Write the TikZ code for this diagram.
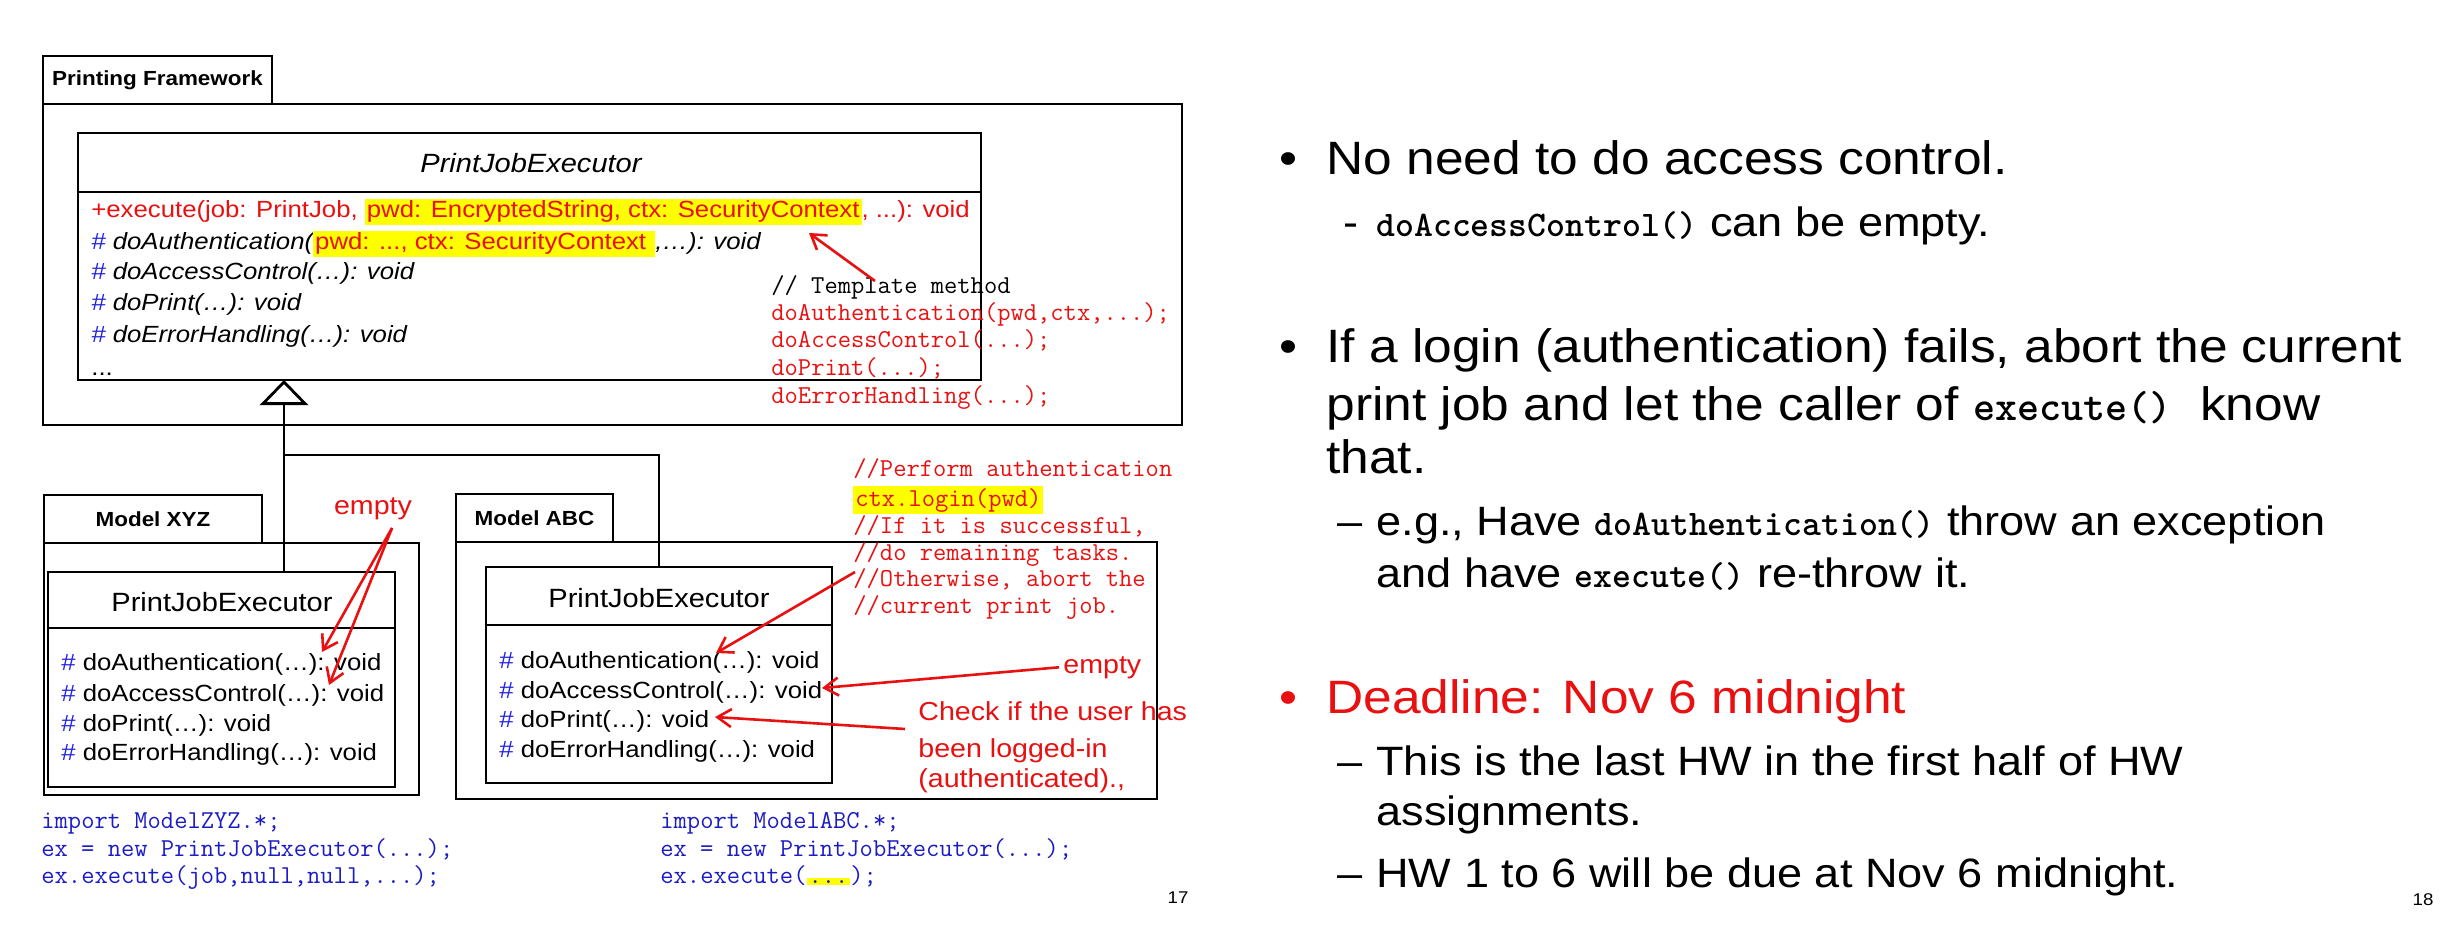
\documentclass[tikz,border=0pt]{standalone}
\usepackage{fontspec}
\setmainfont{Liberation Sans}[FakeStretch=1.1]
\newfontfamily\slidett{lmmonolt10-bold.otf}
\usetikzlibrary{arrows.meta,fit}
\definecolor{annred}{RGB}{232,16,16}
\definecolor{hashblue}{RGB}{36,36,230}
\definecolor{codeblue}{RGB}{28,28,196}
\definecolor{hlyellow}{RGB}{255,255,0}
\newcommand{\hlbox}[1]{{\setlength{\fboxsep}{1pt}\colorbox{hlyellow}{#1}}}
\newcommand{\hashmark}{\textcolor{hashblue}{\#}}
\newcommand{\slidecode}{\slidett\fontsize{18}{20}\selectfont}
\newcommand{\slidecodebig}{\slidett\fontsize{21}{24}\selectfont}

\begin{document}
\begin{tikzpicture}[x=0.5pt, y=-0.5pt,
  umlbox/.style={draw, line width=1.4pt, inner sep=0pt},
  txt/.style={inner sep=0pt, anchor=base west},
  meth/.style={txt, font=\fontsize{11.7}{14}\selectfont},
  methit/.style={txt, font=\itshape\fontsize{11.7}{14}\selectfont},
  cname/.style={inner sep=0pt, font=\fontsize{13.2}{16}\selectfont},
  tabtxt/.style={inner sep=0pt, font=\bfseries\fontsize{10.2}{12}\selectfont},
  codeline/.style={txt, font=\ttfamily\fontsize{12.9}{15}\selectfont},
  redtxt/.style={txt, text=annred, font=\fontsize{13}{16}\selectfont},
  ptr/.style={draw=annred, line width=1.3pt, -{Straight Barb[length=7pt,width=9pt]}},
  mainline/.style={txt, font=\fontsize{23.4}{28}\selectfont},
  subline/.style={txt, font=\fontsize{20.5}{25}\selectfont}]
\useasboundingbox (0,0) rectangle (2442,952);
\fill[white] (0,0) rectangle (2442,952);

% Printing Framework
\node[umlbox, fit={(43,56) (272,104)}] (pfTab) {};
\node[umlbox, fit={(43,104) (1182,425)}] (pfPkg) {};
\node[tabtxt] (pfName) at (pfTab.center) {Printing Framework};
\node[umlbox, fit={(78,133) (981,380)}] (topCls) {};
\coordinate (topDiv) at (0,192);
\draw[line width=1.4pt] (topCls.west |- topDiv) -- (topCls.east |- topDiv);
\node[cname, font=\itshape\fontsize{13.2}{16}\selectfont] (topName) at (531,163) {PrintJobExecutor};
\node[meth, text=annred] (mExec) at (91,218) {+execute(job: PrintJob, \hlbox{pwd: EncryptedString, ctx: SecurityContext}, ...): void};
\node[methit] (mAuth) at (91,250) {\hashmark\ doAuthentication(\hlbox{\upshape\color{annred}pwd: ..., ctx: SecurityContext },…): void};
\node[methit] (mAcc) at (91,280) {\hashmark\ doAccessControl(…): void};
\node[methit] (mPrint) at (91,311) {\hashmark\ doPrint(…): void};
\node[methit] (mErr) at (91,343) {\hashmark\ doErrorHandling(…): void};
\node[meth] (mMore) at (91,375) {...};
\node[codeline] (tmpl) at (771,293) {// Template method};
\node[codeline, text=annred] (tAuth) at (771,321) {doAuthentication(pwd,ctx,...);};
\node[codeline, text=annred] (tAcc) at (771,348) {doAccessControl(...);};
\node[codeline, text=annred] (tPrint) at (771,375) {doPrint(...);};
\node[codeline, text=annred] (tErr) at (771,403) {doErrorHandling(...);};
\coordinate (tmplTail) at (875,281);
\coordinate (ctxTip) at (809,233);
\draw[ptr] (tmplTail) -- (ctxTip);

% Model XYZ
\node[umlbox, fit={(44,495) (262,543)}] (xyzTab) {};
\node[umlbox, fit={(44,543) (419,795)}] (xyzPkg) {};
\node[tabtxt] (xyzLabel) at (xyzTab.center) {Model XYZ};
\node[umlbox, fit={(48,572) (395,787)}] (xyzCls) {};
\coordinate (xyzDiv) at (0,628);
\draw[line width=1.4pt] (xyzCls.west |- xyzDiv) -- (xyzCls.east |- xyzDiv);
\node[cname] (xyzName) at (222,602) {PrintJobExecutor};
\node[meth] (xAuth) at (61,670) {\hashmark\ doAuthentication(…): void};
\node[meth] (xAcc) at (61,701) {\hashmark\ doAccessControl(…): void};
\node[meth] (xPrint) at (61,731) {\hashmark\ doPrint(…): void};
\node[meth] (xErr) at (61,760) {\hashmark\ doErrorHandling(…): void};
\node[redtxt, anchor=center] (xyzEmpty) at (373,509) {empty};
\coordinate (xyzFrom) at (392,528);
\coordinate (xAuthTip) at (322,652);
\coordinate (xAccTip) at (329,685);
\draw[ptr] (xyzFrom) -- (xAuthTip);
\draw[ptr] (xyzFrom) -- (xAccTip);

% Model ABC
\node[umlbox, fit={(456,494) (613,542)}] (abcTab) {};
\node[umlbox, fit={(456,542) (1157,799)}] (abcPkg) {};
\node[tabtxt] (abcLabel) at (abcTab.center) {Model ABC};
\node[umlbox, fit={(486,567) (832,783)}] (abcCls) {};
\coordinate (abcDiv) at (0,625);
\draw[line width=1.4pt] (abcCls.west |- abcDiv) -- (abcCls.east |- abcDiv);
\node[cname] (abcName) at (659,598) {PrintJobExecutor};
\node[meth] (aAuth) at (499,668) {\hashmark\ doAuthentication(…): void};
\node[meth] (aAcc) at (499,698) {\hashmark\ doAccessControl(…): void};
\node[meth] (aPrint) at (499,727) {\hashmark\ doPrint(…): void};
\node[meth] (aErr) at (499,757) {\hashmark\ doErrorHandling(…): void};
\node[codeline, text=annred] (cPerf) at (853,476) {//Perform authentication};
\node[codeline, text=annred] (cLogin) at (853,506) {\hlbox{ctx.login(pwd)}};
\node[codeline, text=annred] (cIf) at (853,533) {//If it is successful,};
\node[codeline, text=annred] (cDo) at (853,560) {//do remaining tasks.};
\node[codeline, text=annred] (cOther) at (853,586) {//Otherwise, abort the};
\node[codeline, text=annred] (cCur) at (853,613) {//current print job.};
\node[redtxt] (abcEmpty) at (1063,673) {empty};
\node[redtxt] (chk1) at (918,720) {Check if the user has};
\node[redtxt] (chk2) at (918,757) {been logged-in};
\node[redtxt] (chk3) at (918,787) {(authenticated).,};
\coordinate (otherTail) at (855,572);
\coordinate (aAuthTip) at (716,653);
\coordinate (aAccTip) at (822,688);
\coordinate (chkTail) at (905,729);
\coordinate (aPrintTip) at (715,717);
\draw[ptr] (otherTail) -- (aAuthTip);
\draw[ptr] ([xshift=-2pt]abcEmpty.west) -- (aAccTip);
\draw[ptr] (chkTail) -- (aPrintTip);

% generalization
\coordinate (gen) at (284,380);
\coordinate (split) at (284,455);
\draw[line width=1.4pt, -{Triangle[open,length=12.5pt,width=24pt]}] (gen |- xyzCls.north) -- (gen);
\draw[line width=1.4pt] (split) -| (abcCls.north);

% client code
\node[codeline, text=codeblue] (zImp) at (41,828) {import ModelZYZ.*;};
\node[codeline, text=codeblue] (zNew) at (41,856) {ex = new PrintJobExecutor(...);};
\node[codeline, text=codeblue] (zRun) at (41,883) {ex.execute(job,null,null,...);};
\node[codeline, text=codeblue] (aImp) at (660,828) {import ModelABC.*;};
\node[codeline, text=codeblue] (aNew) at (660,856) {ex = new PrintJobExecutor(...);};
\node[codeline, text=codeblue] (aRun) at (660,883) {ex.execute(\hlbox{...});};
\node[inner sep=0pt, font=\fontsize{8.5}{10}\selectfont] (pgL) at (1178,898) {17};

% slide 18
\node[mainline, anchor=base] (dot1) at (1288,175) {•};
\node[mainline] (b1) at (1326,175) {No need to do access control.};
\node[subline] (dash1) at (1343,237) {-};
\node[subline] (s1) at (1376,237) {{\slidecode doAccessControl()} can be empty.};
\node[mainline, anchor=base] (dot2) at (1288,363) {•};
\node[mainline] (b2a) at (1326,363) {If a login (authentication) fails, abort the current};
\node[mainline] (b2b) at (1326,420) {print job and let the caller of {\slidecodebig execute()}~ know};
\node[mainline] (b2c) at (1326,473) {that.};
\node[subline] (dash2) at (1337,535) {–};
\node[subline] (s2a) at (1376,535) {e.g., Have {\slidecode doAuthentication()} throw an exception};
\node[subline] (s2b) at (1376,587) {and have {\slidecode execute()} re-throw it.};
\node[mainline, anchor=base, text=annred] (dot3) at (1288,713) {•};
\node[mainline, text=annred] (b3) at (1326,713) {Deadline: Nov 6 midnight};
\node[subline] (dash3) at (1337,775) {–};
\node[subline] (s3a) at (1376,775) {This is the last HW in the first half of HW};
\node[subline] (s3b) at (1376,825) {assignments.};
\node[subline] (dash4) at (1337,887) {–};
\node[subline] (s3c) at (1376,887) {HW 1 to 6 will be due at Nov 6 midnight.};
\node[inner sep=0pt, font=\fontsize{8.5}{10}\selectfont] (pgR) at (2423,900) {18};
\end{tikzpicture}
\end{document}
